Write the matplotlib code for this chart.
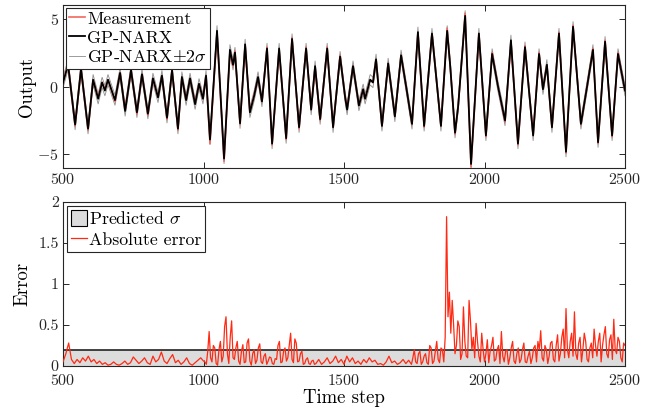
import numpy as np
import matplotlib
matplotlib.use("Agg")
import matplotlib.pyplot as plt
from matplotlib.patches import Patch
from matplotlib.lines import Line2D

plt.rcParams['font.family'] = 'serif'
plt.rcParams['font.serif'] = ['cmr10']
plt.rcParams['mathtext.fontset'] = 'cm'
plt.rcParams['axes.formatter.use_mathtext'] = True
plt.rcParams['axes.unicode_minus'] = True

# ---- data: top panel (extrema) ----
steps = [500, 518, 543, 564, 589, 607, 625, 639, 649, 660, 685, 703, 721, 742, 763,
         781, 802, 820, 838, 852, 870, 888, 909, 923, 938, 952, 970, 984, 998, 1009,
         1023, 1048, 1073, 1094, 1105, 1112, 1130, 1148, 1165, 1180, 1194, 1208, 1226,
         1244, 1269, 1294, 1315, 1340, 1365, 1383, 1397, 1415, 1440, 1461, 1486, 1504,
         1511, 1532, 1553, 1568, 1575, 1593, 1603, 1614, 1635, 1657, 1681, 1703, 1721,
         1742, 1763, 1785, 1813, 1845, 1867, 1878, 1895, 1906, 1931, 1952, 1980, 2005,
         2027, 2048, 2073, 2094, 2119, 2144, 2173, 2194, 2208, 2222, 2240, 2265, 2290,
         2315, 2343, 2361, 2386, 2404, 2429, 2454, 2475, 2500]
pred_vals = [0.3, 1.6, -2.8, 1.3, -3.1, 0.5, -0.9, 0.3, -0.3, 0.5, -1.0, 1.0, -1.8, 1.2, -1.9,
             0.9, -2.0, 0.6, -0.8, 0.8, -2.3, 1.2, -3.1, 0.7, -1.0, 0.6, -1.3, 0.2, -0.9, 0.8,
             -3.9, 4.1, -5.3, 2.7, 1.6, 2.5, -2.7, 3.1, -1.9, -0.7, 0.7, -1.1, 2.8,
             -4.2, 2.8, -3.8, 3.5, -3.0, 2.8, -1.7, 1.5, -2.4, 2.8, -3.0, 2.2, -0.8,
             -1.7, 1.5, -1.4, -0.2, -0.9, 0.5, 0.3, 2.0, -2.9, 1.7, -2.2, 2.3, 0.0,
             -2.75, 4.0, -2.9, 3.9, -2.9, 4.1, 1.5, -3.4, -1.5, 5.2, -5.7, 3.9, -3.6,
             2.4, 0.0, -2.5, 3.4, -4.2, 2.9, -3.6, 2.4, -0.2, 1.6, -3.0, 3.9, -4.8,
             4.4, -2.75, -0.5, 2.7, -4.1, 3.3, -3.6, 2.4, -0.3]
meas_vals = [0.3, 1.7, -2.9, 1.3, -3.2, 0.5, -0.8, 0.3, -0.2, 0.5, -1.1, 1.0, -1.7, 1.2, -2.0,
             0.9, -2.1, 0.6, -0.8, 0.8, -2.4, 1.2, -3.2, 0.7, -1.0, 0.6, -1.2, 0.2, -0.9, 0.8,
             -4.2, 4.0, -5.5, 2.6, 1.5, 2.6, -2.8, 3.1, -1.9, -0.6, 0.6, -1.1, 2.9,
             -4.3, 2.7, -3.9, 3.6, -3.1, 2.9, -1.7, 1.4, -2.5, 2.9, -3.0, 2.3, -0.8,
             -1.6, 1.5, -1.4, -0.2, -0.9, 0.5, 0.3, 2.0, -2.9, 1.7, -2.2, 2.3, 0.0,
             -2.8, 4.0, -3.0, 3.9, -2.9, 4.3, 1.5, -3.5, -1.5, 5.4, -5.9, 3.9, -3.7,
             2.5, 0.0, -2.6, 3.3, -4.3, 3.0, -3.6, 2.5, -0.2, 1.6, -3.0, 4.0, -4.9,
             4.5, -2.8, -0.5, 2.8, -4.2, 3.4, -3.7, 2.5, -0.3]
sigma_level = 0.19

# ---- data: bottom panel (absolute error) ----
# segment A: steps 500..1000 every 10
err_a = [0.05, 0.15, 0.28, 0.08, 0.03, 0.08, 0.04, 0.10, 0.06, 0.12, 0.05, 0.08, 0.03, 0.06, 0.02,
         0.04, 0.01, 0.02, 0.05, 0.02, 0.01, 0.03, 0.06, 0.02, 0.04, 0.11, 0.07, 0.03, 0.06, 0.10,
         0.04, 0.02, 0.12, 0.05, 0.08, 0.17, 0.06, 0.03, 0.09, 0.14, 0.04, 0.07, 0.02, 0.05, 0.10,
         0.03, 0.01, 0.04, 0.07, 0.10, 0.06]
# segment B: steps 1005..1400 every 5
err_b = [0.05, 0.02, 0.18, 0.42, 0.10, 0.05, 0.25, 0.22, 0.03, 0.01,
         0.20, 0.30, 0.05, 0.12, 0.48, 0.60, 0.15, 0.03, 0.35, 0.55,
         0.10, 0.08, 0.22, 0.30, 0.06, 0.02, 0.18, 0.26, 0.04, 0.05,
         0.28, 0.33, 0.06, 0.01, 0.15, 0.20, 0.03, 0.07, 0.22, 0.27,
         0.05, 0.03, 0.12, 0.15, 0.02, 0.06, 0.11, 0.10, 0.03, 0.02,
         0.09, 0.08, 0.25, 0.30, 0.04, 0.05, 0.18, 0.22, 0.06, 0.10,
         0.25, 0.40, 0.08, 0.04, 0.33, 0.28, 0.05, 0.06, 0.15, 0.18,
         0.02, 0.03, 0.08, 0.10, 0.03, 0.02, 0.06, 0.07, 0.02, 0.03]
# segment C: steps 1410..1740 every 10
err_c = [0.08, 0.02, 0.05, 0.10, 0.03, 0.06, 0.12, 0.04, 0.08, 0.02, 0.12, 0.05, 0.10, 0.03, 0.06,
         0.02, 0.08, 0.04, 0.10, 0.05, 0.07, 0.02, 0.03, 0.01, 0.05, 0.12, 0.04, 0.06, 0.02, 0.04,
         0.08, 0.03, 0.07, 0.02]
# segment D: steps 1745..2500 every 5
err_d = [0.10, 0.20, 0.05, 0.03, 0.15, 0.18, 0.02, 0.05, 0.12, 0.15, 0.04,
         0.02, 0.25, 0.22, 0.03, 0.06, 0.18, 0.30, 0.08, 0.04, 0.22,
         0.20, 0.05, 0.35, 1.82, 0.60, 0.90, 0.40, 0.80, 0.50, 0.15,
         0.25, 0.55, 0.48, 0.08, 0.15, 0.72, 0.30, 0.12, 0.10, 0.80,
         0.55, 0.20, 0.35, 0.10, 0.52, 0.30, 0.12, 0.05, 0.40, 0.20,
         0.05, 0.15, 0.32, 0.04, 0.18, 0.25, 0.35, 0.06, 0.08, 0.20,
         0.25, 0.03, 0.42, 0.12, 0.05, 0.18, 0.20, 0.02, 0.10, 0.22,
         0.30, 0.06, 0.03, 0.15, 0.22, 0.04, 0.08, 0.20, 0.28, 0.05,
         0.04, 0.12, 0.18, 0.03, 0.10, 0.22, 0.25, 0.05, 0.30, 0.20,
         0.43, 0.10, 0.06, 0.25, 0.20, 0.03, 0.12, 0.28, 0.30, 0.08,
         0.05, 0.25, 0.38, 0.06, 0.15, 0.35, 0.45, 0.10, 0.70, 0.20,
         0.10, 0.30, 0.40, 0.12, 0.66, 0.15, 0.08, 0.28, 0.35, 0.05,
         0.20, 0.40, 0.30, 0.08, 0.05, 0.22, 0.28, 0.10, 0.45, 0.25,
         0.12, 0.30, 0.40, 0.05, 0.25, 0.38, 0.48, 0.15, 0.10, 0.32,
         0.38, 0.08, 0.57, 0.20, 0.15, 0.35, 0.30, 0.10, 0.05, 0.28,
         0.25]
err_steps = np.concatenate([np.arange(500, 1001, 10), np.arange(1005, 1401, 5),
                            np.arange(1410, 1741, 10), np.arange(1745, 2501, 5)])
err_vals = np.array(err_a + err_b + err_c + err_d)

xticks = [500, 1000, 1500, 2000, 2500]

steps = np.array(steps, float)
pred = np.array(pred_vals)
meas = np.array(meas_vals)

fig = plt.figure(figsize=(6.6, 4.18), dpi=100)
ax1 = fig.add_axes([0.0955, 0.598, 0.8515, 0.39])
ax2 = fig.add_axes([0.0955, 0.1244, 0.8515, 0.3926])

edge = '#262626'
red_meas = '#f2685c'
red_err = '#ff2a14'

ax1.plot(steps, pred + 2 * sigma_level, color='#8c8c8c', lw=0.6,
         label=r'GP-NARX$\pm2\sigma$', zorder=1)
ax1.plot(steps, pred - 2 * sigma_level, color='#8c8c8c', lw=0.6, zorder=1)
ax1.plot(steps, meas, color=red_meas, lw=1.2, label='Measurement', zorder=2)
ax1.plot(steps, pred, color='black', lw=1.3, label='GP-NARX', zorder=3)
ax1.set_xlim(500, 2500)
ax1.set_ylim(-6, 6)
ax1.set_yticks([-5, 0, 5])
ax1.set_xticks(xticks)
ax1.set_ylabel('Output', fontsize=13.5, labelpad=1)
h1, l1 = ax1.get_legend_handles_labels()
order = [l1.index('Measurement'), l1.index('GP-NARX'), l1.index(r'GP-NARX$\pm2\sigma$')]
leg1 = ax1.legend([h1[i] for i in order], [l1[i] for i in order], loc='upper left',
                  fontsize=12.8, frameon=True, fancybox=False,
                  framealpha=1, edgecolor=edge, handlelength=0.9, handletextpad=0.1,
                  borderpad=0.2, labelspacing=0.2, borderaxespad=0.15)
leg1.get_frame().set_linewidth(0.8)

ax2.fill_between([500, 2500], [0, 0], [sigma_level, sigma_level], facecolor='#dcdcdc',
                 edgecolor='none', zorder=1)
ax2.plot([500, 2500], [sigma_level, sigma_level], color='#222222', lw=1.2, zorder=2)
ax2.plot(err_steps, err_vals, color=red_err, lw=0.9, zorder=3)
h_sig = Patch(facecolor='#dcdcdc', edgecolor='black', linewidth=0.8, label=r'Predicted $\sigma$')
h_err = Line2D([], [], color=red_err, lw=0.9, label='Absolute error')
ax2.set_xlim(500, 2500)
ax2.set_ylim(0, 2)
ax2.set_yticks([0, 0.5, 1, 1.5, 2])
ax2.set_yticklabels(['0', '0.5', '1', '1.5', '2'])
ax2.set_xticks(xticks)
ax2.set_xlabel('Time step', fontsize=13.5, labelpad=1)
ax2.set_ylabel('Error', fontsize=13.5, labelpad=5)
leg2 = ax2.legend(handles=[h_sig, h_err], loc='upper left', fontsize=12.8, frameon=True,
                  fancybox=False, framealpha=1, edgecolor=edge, handlelength=0.9,
                  handleheight=1.0, handletextpad=0.1, borderpad=0.2, labelspacing=0.25,
                  borderaxespad=0.25)
leg2.get_frame().set_linewidth(0.8)

for ax in (ax1, ax2):
    for s in ax.spines.values():
        s.set_color(edge)
        s.set_linewidth(0.8)
    ax.tick_params(direction='in', top=True, right=True, length=4, width=0.7,
                   colors=edge, labelsize=11.5, labelcolor='#262626', pad=3)
ax2.tick_params(axis='x', pad=5)

fig.savefig('out.png', dpi=100)
